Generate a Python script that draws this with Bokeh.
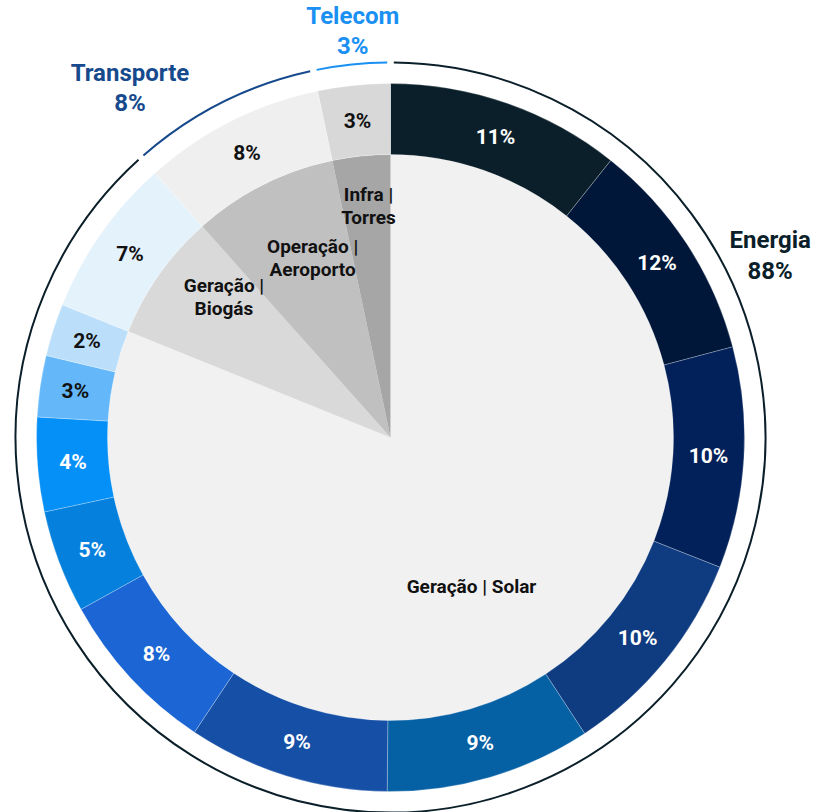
import numpy as np
from bokeh.plotting import figure
from bokeh.models import Range1d
from bokeh.embed import file_html
from bokeh.resources import INLINE
from bokeh.core.properties import value

# ---------------- data ----------------
# Outer ring segments: share of the whole (%), clockwise from 12 o'clock
ring_shares = [10.7, 10.2, 10.1, 9.8, 9.4, 9.2, 7.6, 4.7, 4.3, 2.8, 2.4, 7.3, 8.3, 3.3]
ring_labels = ["11%", "12%", "10%", "10%", "9%", "9%", "8%", "5%", "4%", "3%", "2%", "7%", "8%", "3%"]
ring_colors = ["#0A1F29", "#00173A", "#02215A", "#0F3B80", "#0660A4", "#154FA6", "#1B66D4",
               "#0580DD", "#0590F8", "#64B8FA", "#BBDFFA", "#E4F2FC", "#EFEFEF", "#D8D8D8"]
ring_text_colors = ["white"] * 9 + ["#111111"] * 5

# Inner pie
inner_names = ["Geração | Solar", "Geração |\nBiogás", "Operação |\nAeroporto", "Infra |\nTorres"]
inner_shares = [81.2, 7.3, 8.3, 3.3]
inner_colors = ["#F1F1F1", "#D9D9D9", "#C0C0C0", "#A6A6A6"]

# Outer groups
group_names = ["Energia", "Transporte", "Telecom"]
group_pcts = ["88%", "8%", "3%"]
group_shares = [88.5, 8.3, 3.3]
group_colors = ["#0B1F2A", "#174A8C", "#1990F2"]

# ---------------- layout constants ----------------
R_IN, R_OUT, R_LINE = 283, 354, 375
FONT = value("Roboto")
W, H = 815, 812
CX, CY = 390, 437  # pie centre in page pixels


def clock_angles(shares):
    s = np.asarray(shares, float)
    cum = np.concatenate([[0], np.cumsum(s)]) / s.sum() * 360.0
    return cum[:-1], cum[1:]


def to_rad(theta_deg):
    return np.radians(90.0 - np.asarray(theta_deg))


def polar(r, theta_deg):
    t = np.radians(np.asarray(theta_deg))
    return np.asarray(r) * np.sin(t), np.asarray(r) * np.cos(t)


p = figure(width=W, height=H, x_range=Range1d(-CX, W - CX), y_range=Range1d(CY - H, CY),
           output_backend="svg", toolbar_location=None, min_border=0,
           x_axis_location=None, y_axis_location=None)
p.grid.visible = False
p.outline_line_color = None
p.background_fill_color = "white"
p.border_fill_color = "white"

# inner pie
i0, i1 = clock_angles(inner_shares)
p.wedge(x=0, y=0, radius=R_IN, start_angle=to_rad(i1), end_angle=to_rad(i0),
        fill_color=inner_colors, line_color=None)

# ring
r0, r1 = clock_angles(ring_shares)
p.annular_wedge(x=0, y=0, inner_radius=R_IN, outer_radius=R_OUT,
                start_angle=to_rad(r1), end_angle=to_rad(r0),
                fill_color=ring_colors, line_color="white", line_width=0.5, line_alpha=0.5)

# ring labels
rmid = (r0 + r1) / 2
lx, ly = polar((R_IN + R_OUT) / 2, rmid)
p.text(x=lx, y=ly, text=ring_labels, text_color=ring_text_colors, text_font=FONT,
       text_font_style="bold", text_font_size="21px", text_align="center", text_baseline="middle")

# inner labels
inner_r_frac = [0.60, 0.77, 0.69, 0.82]
inner_nudge = [5.5, 5.0, 3.3, 0.5]
imid = (i0 + i1) / 2
ix, iy = polar(np.array(inner_r_frac) * R_IN, imid + np.array(inner_nudge))
p.text(x=ix, y=iy, text=inner_names, text_color="#111111", text_font=FONT,
       text_font_style="bold", text_font_size="19px", text_align="center", text_baseline="middle",
       text_line_height=1.0)

# group arcs
g0, g1 = clock_angles(group_shares)
gap = 0.5
p.arc(x=0, y=0, radius=R_LINE, start_angle=to_rad(g1 - gap), end_angle=to_rad(g0 + gap),
      line_color=group_colors, line_width=2)

# group labels
group_r = [421, 436, 408]
group_theta = [64.4, 323.3, 354.7]
gx, gy = polar(group_r, group_theta)
for k in range(3):
    p.text(x=[gx[k]], y=[gy[k]], text=[group_names[k] + "\n" + group_pcts[k]],
           text_color=group_colors[k], text_font=FONT, text_font_style="bold",
           text_font_size="24px", text_align="center", text_baseline="middle",
           text_line_height=1.08)

open("out.html", "w").write(file_html(p, INLINE))
